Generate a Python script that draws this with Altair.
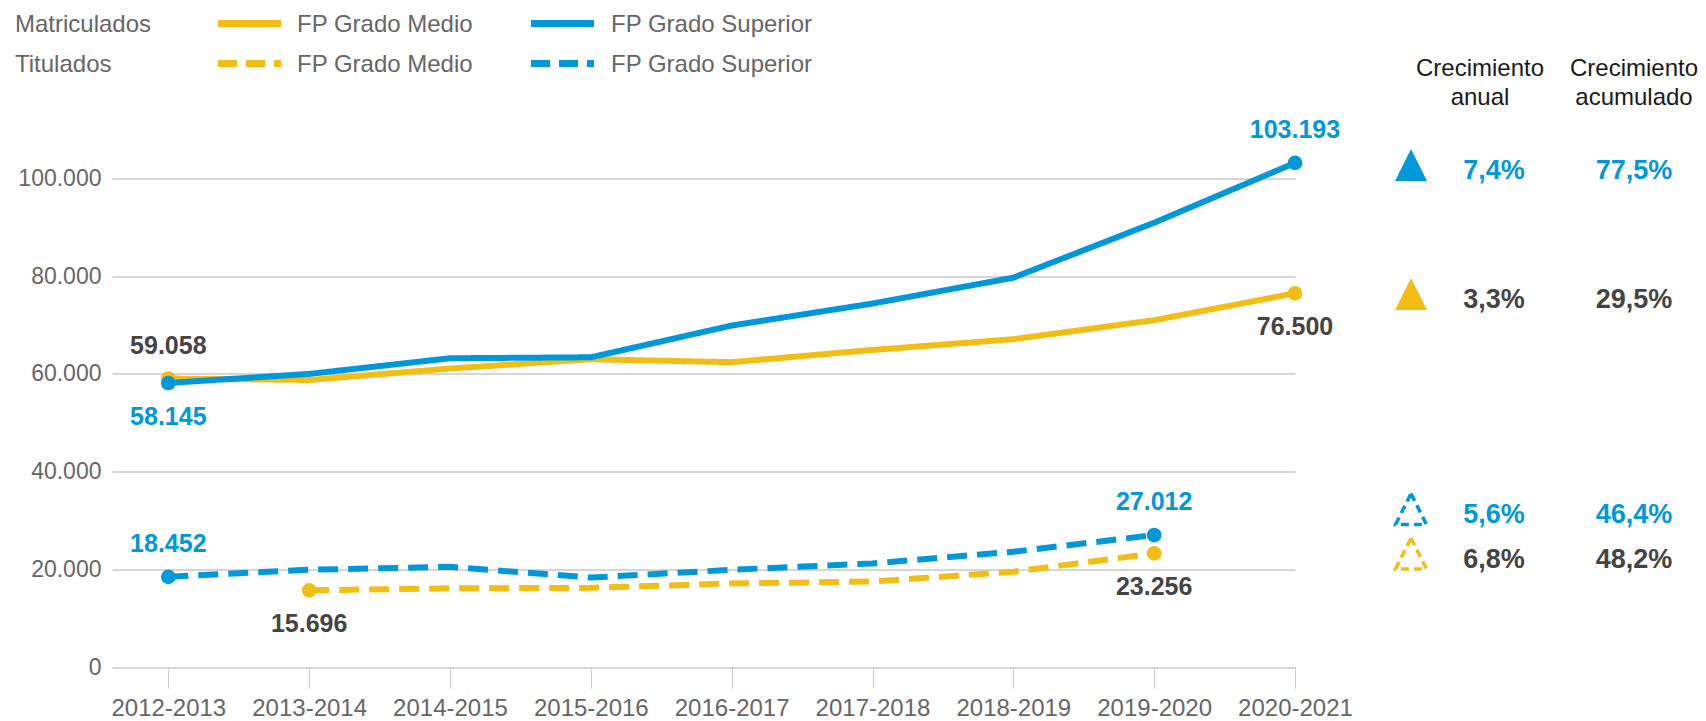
import json
import altair as alt
import pandas as pd

# ---------------- data ----------------
cursos = ["2012-2013", "2013-2014", "2014-2015", "2015-2016", "2016-2017",
          "2017-2018", "2018-2019", "2019-2020", "2020-2021"]
matriculados_medio = [59058, 58750, 61100, 63000, 62400, 64900, 67100, 71000, 76500]
matriculados_superior = [58145, 60000, 63200, 63400, 69900, 74400, 79700, 90950, 103193]
titulados_medio = [None, 15696, 16100, 16200, 17100, 17500, 19500, 23256, None]
titulados_superior = [18452, 19900, 20500, 18300, 19900, 21200, 23600, 27012, None]

y_ticks = [0, 20000, 40000, 60000, 80000, 100000]

crecimiento_anual = ["7,4%", "3,3%", "5,6%", "6,8%"]
crecimiento_acumulado = ["77,5%", "29,5%", "46,4%", "48,2%"]
tabla_tipo = ["Matriculados", "Matriculados", "Titulados", "Titulados"]
tabla_grado = ["Superior", "Medio", "Superior", "Medio"]

leyenda_tipos = ["Matriculados", "Titulados"]
leyenda_grados = ["FP Grado Medio", "FP Grado Superior"]
cabeceras = [["Crecimiento", "anual"], ["Crecimiento", "acumulado"]]

# ---------------- styles ----------------
FONT = "Liberation Sans"
BLUE = "#0098D8"
YELLOW = "#F2BE16"
DARK = "#444444"
GRAY = "#666666"
GRID = "#c8c8c8"
COLORS = {"Medio": YELLOW, "Superior": BLUE}
TEXTCOL = {"Medio": DARK, "Superior": BLUE}

series = [
    ("Titulados", "Medio", titulados_medio),
    ("Titulados", "Superior", titulados_superior),
    ("Matriculados", "Medio", matriculados_medio),
    ("Matriculados", "Superior", matriculados_superior),
]

rows = []
ends = []
for tipo, grado, vals in series:
    idxs = [i for i, v in enumerate(vals) if v is not None]
    for i in idxs:
        rows.append(dict(idx=i, curso=cursos[i], valor=vals[i], tipo=tipo, grado=grado,
                         serie=f"{tipo} {grado}"))
    for i in (idxs[0], idxs[-1]):
        ends.append(dict(idx=i, valor=vals[i], tipo=tipo, grado=grado,
                         serie=f"{tipo} {grado}",
                         etiqueta=f"{vals[i]:,}".replace(",", ".")))
df = pd.DataFrame(rows)
df_end = pd.DataFrame(ends)

# label placement (above / below the end points)
arriba = {
    ("Matriculados", "Medio", 0): True, ("Matriculados", "Medio", 8): False,
    ("Matriculados", "Superior", 0): False, ("Matriculados", "Superior", 8): True,
    ("Titulados", "Medio", 1): False, ("Titulados", "Medio", 7): False,
    ("Titulados", "Superior", 0): True, ("Titulados", "Superior", 7): True,
}
df_end["arriba"] = [arriba[(t, g, i)] for t, g, i in zip(df_end.tipo, df_end.grado, df_end.idx)]
df_end = pd.concat([df_end[df_end.grado == "Medio"], df_end[df_end.grado == "Superior"]])

x_label_expr = json.dumps(cursos) + "[datum.value]"

X = alt.X("idx:Q",
          scale=alt.Scale(domain=[-0.4, 8], nice=False, zero=False),
          axis=alt.Axis(values=list(range(len(cursos))), labelExpr=x_label_expr, title=None,
                        grid=False, domain=False, ticks=True, tickSize=21, tickColor="#cccccc",
                        tickWidth=1, labelFontSize=24, labelColor=GRAY, labelFont=FONT,
                        labelPadding=8, labelFontWeight="normal", labelOverlap=False,
                        labelBound=False, labelFlush=False))
Y = alt.Y("valor:Q",
          scale=alt.Scale(domain=[0, 100000], nice=False),
          axis=alt.Axis(values=y_ticks, labelExpr="replace(format(datum.value, ','), ',', '.')",
                        title=None, grid=True, gridColor=GRID, gridWidth=1.5, domain=False,
                        ticks=False, labelPadding=11, labelFontSize=23, labelColor=GRAY,
                        labelFont=FONT, labelOverlap=False))

color = alt.Color("grado:N", scale=alt.Scale(domain=["Medio", "Superior"], range=[YELLOW, BLUE]),
                  legend=None)
dash = alt.StrokeDash("tipo:N", scale=alt.Scale(domain=["Matriculados", "Titulados"],
                                                range=[[1, 0], [20, 10]]), legend=None)

lines = alt.Chart(df).mark_line(strokeWidth=6).encode(
    x=X, y=Y, color=color, strokeDash=dash, detail="serie:N", order="idx:Q")

points = alt.Chart(df_end).mark_circle(size=215, opacity=1).encode(x=X, y=Y, color=color)

text_color = alt.condition("datum.grado == 'Superior'", alt.value(BLUE), alt.value(DARK))
lab_up = alt.Chart(df_end[df_end.arriba]).mark_text(
    dy=-33, baseline="middle", align="center", font=FONT, fontSize=25, fontWeight="bold").encode(
    x=X, y=Y, text="etiqueta:N", color=text_color)
lab_dn = alt.Chart(df_end[~df_end.arriba]).mark_text(
    dy=34, baseline="middle", align="center", font=FONT, fontSize=25, fontWeight="bold").encode(
    x=X, y=Y, text="etiqueta:N", color=text_color)

layers = [lines, points, lab_up, lab_dn]

# ---------------- legend (top) ----------------
def txt(s, x, y, size=24, color=GRAY, weight="normal", align="left"):
    return alt.Chart(pd.DataFrame({"t": [s]})).mark_text(
        font=FONT, fontSize=size, color=color, fontWeight=weight, align=align,
        baseline="middle").encode(x=alt.value(x), y=alt.value(y), text="t:N")

def rule(x1, x2, y, color, dashpat):
    return alt.Chart(pd.DataFrame({"t": [0]})).mark_rule(
        strokeWidth=7, color=color, strokeDash=dashpat, strokeCap="butt").encode(
        x=alt.value(x1), x2=alt.value(x2), y=alt.value(y))

leg_y = [-154, -114]
for k, tipo in enumerate(leyenda_tipos):
    d = [1, 0] if k == 0 else [19, 9]
    layers.append(txt(tipo, -97, leg_y[k]))
    layers.append(rule(106, 169, leg_y[k] - 1, YELLOW, d))
    layers.append(txt(leyenda_grados[0], 185, leg_y[k]))
    layers.append(rule(419, 482, leg_y[k] - 1, BLUE, d))
    layers.append(txt(leyenda_grados[1], 499, leg_y[k]))

# ---------------- growth table (right) ----------------
col_x = [1368, 1522]
for c, (l1, l2) in enumerate(cabeceras):
    layers.append(txt(l1, col_x[c], -110, size=24, color="#1a1a1a", align="center"))
    layers.append(txt(l2, col_x[c], -81, size=24, color="#1a1a1a", align="center"))

TRI = "M0,-1L1,1L-1,1Z"
row_y = [-13.5, 115.5, 330.5, 375]
for r in range(4):
    g = tabla_grado[r]
    if tabla_tipo[r] == "Matriculados":
        tri = alt.Chart(pd.DataFrame({"t": [0]})).mark_point(
            shape=TRI, filled=True, size=1024, color=COLORS[g], opacity=1, strokeWidth=0)
    else:
        tri = alt.Chart(pd.DataFrame({"t": [0]})).mark_point(
            shape=TRI, filled=False, size=950, stroke=COLORS[g], strokeWidth=3.5,
            strokeDash=[8, 5], opacity=1)
    layers.append(tri.encode(x=alt.value(1299), y=alt.value(row_y[r])))
    layers.append(txt(crecimiento_anual[r], 1382, row_y[r] + 6, size=27, color=TEXTCOL[g],
                      weight="bold", align="center"))
    layers.append(txt(crecimiento_acumulado[r], 1522, row_y[r] + 6, size=27, color=TEXTCOL[g],
                      weight="bold", align="center"))

chart = alt.layer(*layers).properties(
    width=1183, height=488.5,
    autosize="none",
    background="white",
    padding={"left": 104, "top": 170.5, "right": 403, "bottom": 54},
).configure_view(stroke=None, strokeWidth=0, strokeOpacity=0)

chart.save("out.html", embed_options={"renderer": "svg", "actions": False})
